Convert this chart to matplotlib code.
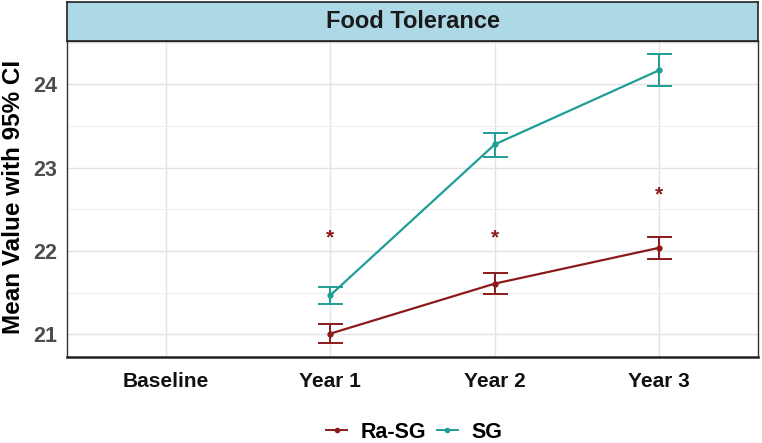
import matplotlib
matplotlib.use("Agg")
import matplotlib.pyplot as plt
from matplotlib.lines import Line2D
from matplotlib.ticker import MultipleLocator

plt.rcParams['font.family'] = ['Liberation Sans', 'DejaVu Sans']

categories = ["Baseline", "Year 1", "Year 2", "Year 3"]
groups = ["Ra-SG", "SG"]
colors = {"Ra-SG": "#8B1A1A", "SG": "#1F9E96"}

ra_x = ["Year 1", "Year 2", "Year 3"]
ra_mean = [21.01, 21.61, 22.04]
ra_low = [20.90, 21.48, 21.91]
ra_high = [21.12, 21.74, 22.17]

sg_x = ["Year 1", "Year 2", "Year 3"]
sg_mean = [21.47, 23.28, 24.17]
sg_low = [21.37, 23.13, 23.98]
sg_high = [21.57, 23.42, 24.37]

star_x = ["Year 1", "Year 2", "Year 3"]
star_y = [22.16, 22.16, 22.67]

title = "Food Tolerance"
ylabel = "Mean Value with 95% CI"

W, H = 762, 443
fig = plt.figure(figsize=(W / 100, H / 100), dpi=100)

px_l, px_r, px_t, px_b = 67, 758, 41, 357
ax = fig.add_axes([px_l / W, 1 - px_b / H, (px_r - px_l) / W, (px_b - px_t) / H])
sx = fig.add_axes([px_l / W, 1 - px_t / H, (px_r - px_l) / W, (px_t - 2) / H])

pos = {c: i for i, c in enumerate(categories)}

def draw(xs, m, lo, hi, col):
    xp = [pos[c] for c in xs]
    yerr = [[mm - l for mm, l in zip(m, lo)], [h - mm for mm, h in zip(m, hi)]]
    ax.plot(xp, m, color=col, lw=1.6, zorder=3)
    ax.errorbar(xp, m, yerr=yerr, fmt='o', ms=3.5, color=col, ecolor=col,
                elinewidth=1.4, capsize=9, capthick=1.4, zorder=4)

draw(ra_x, ra_mean, ra_low, ra_high, colors["Ra-SG"])
draw(sg_x, sg_mean, sg_low, sg_high, colors["SG"])

for c, y in zip(star_x, star_y):
    ax.text(pos[c], y, "*", ha='center', va='center', color=colors["Ra-SG"],
            fontsize=15, fontweight='bold')

ax.set_xlim(-0.6, len(categories) - 1 + 0.6)
ax.set_ylim(20.73, 24.52)
ax.set_xticks(range(len(categories)))
ax.set_xticklabels(categories, fontsize=15, fontweight='bold', color='#111111')
ax.yaxis.set_major_locator(MultipleLocator(1))
ax.yaxis.set_minor_locator(MultipleLocator(0.5))
for lbl in ax.get_yticklabels():
    lbl.set_fontweight('bold')
ax.tick_params(axis='y', labelsize=15.5, labelcolor='#4D4D4D', length=0, pad=7)
ax.tick_params(axis='x', length=0, pad=11)
ax.tick_params(which='minor', length=0)
ax.grid(which='major', color='#E3E3E3', lw=1.0)
ax.grid(which='minor', axis='y', color='#EEEEEE', lw=0.8)
ax.set_axisbelow(True)
for s in ['left', 'right', 'top']:
    ax.spines[s].set_color('#333333')
    ax.spines[s].set_linewidth(1.0)
ax.spines['bottom'].set_color('#222222')
ax.spines['bottom'].set_linewidth(1.8)
ax.set_ylabel(ylabel, fontsize=17.5, fontweight='bold')
ax.yaxis.set_label_coords(-(px_l - 14) / (px_r - px_l), (357 - 197) / (px_b - px_t))
ax.yaxis.label.set_va('center')

sx.set_facecolor('#ADD8E6')
sx.set_xticks([]); sx.set_yticks([])
for s in sx.spines.values():
    s.set_color('#222222'); s.set_linewidth(1.2)
sx.text(0.5, 0.5, title, ha='center', va='center', fontsize=17, fontweight='bold',
        color='#1A1A1A', transform=sx.transAxes)

handles = [Line2D([0], [0], color=colors[g], lw=1.4, marker='o', ms=3) for g in groups]
fig.legend(handles, groups, loc='center', bbox_to_anchor=(414 / W, 1 - 432 / H), ncol=2,
           frameon=False, prop={'size': 15.5, 'weight': 'bold'}, handlelength=1.0,
           handletextpad=0.6, columnspacing=0.5)

fig.savefig("out.png", dpi=100)
